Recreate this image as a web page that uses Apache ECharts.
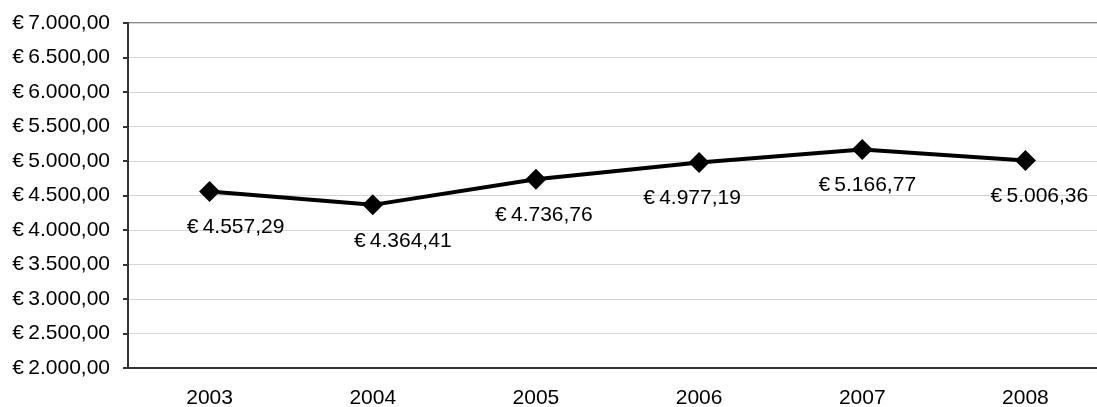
<!DOCTYPE html>
<html>
<head>
<meta charset="utf-8">
<title>chart</title>
<script src="https://cdn.jsdelivr.net/npm/echarts@6/dist/echarts.min.js"></script>
<style>
  html, body { margin: 0; padding: 0; background: #fff; }
  #chart { width: 1097px; height: 407px; }
</style>
</head>
<body>
<div id="chart"></div>
<script>
// jaren en bedragen
var years = ["2003", "2004", "2005", "2006", "2007", "2008"];
var amounts = [4557.29, 4364.41, 4736.76, 4977.19, 5166.77, 5006.36];

// label verschuiving per punt (x), zoals in het origineel
var labelShiftX = [26, 30, 8, -7, 5, 14];

function euro(v) {
  var parts = v.toFixed(2).split(".");
  var whole = parts[0].replace(/\B(?=(\d{3})+(?!\d))/g, ".");
  return "€\u2009" + whole + "," + parts[1];
}

var chart = echarts.init(document.getElementById("chart"));

var seriesData = amounts.map(function (v, i) {
  return {
    value: v,
    label: { offset: [labelShiftX[i], 36] }
  };
});

var option = {
  animation: false,
  textStyle: { fontFamily: "Liberation Sans, Arial, sans-serif" },
  grid: {
    left: 128,
    top: 23,
    bottom: 39,
    right: -10,
    containLabel: false,
    outerBoundsMode: "none",
    show: true,
    borderColor: "#888888",
    borderWidth: 2
  },
  xAxis: {
    type: "category",
    data: years,
    boundaryGap: true,
    axisLine: { lineStyle: { color: "#333333", width: 2 } },
    axisTick: { length: 6, lineStyle: { color: "#333333", width: 2 } },
    axisLabel: {
      color: "#000",
      fontSize: 21,
      margin: 20,
      fontFamily: "Liberation Sans"
    }
  },
  yAxis: {
    type: "value",
    min: 2000,
    max: 7000,
    interval: 500,
    axisLine: { show: true, lineStyle: { color: "#333333", width: 2 } },
    axisTick: { show: true, length: 5, lineStyle: { color: "#333333", width: 2 } },
    splitLine: { lineStyle: { color: "#d4d4d4", width: 1 } },
    axisLabel: {
      color: "#000",
      fontSize: 21,
      margin: 18,
      fontFamily: "Liberation Sans",
      formatter: function (v) { return euro(v); }
    }
  },
  series: [
    {
      type: "line",
      data: seriesData,
      symbol: "diamond",
      symbolSize: 21,
      itemStyle: { color: "#000" },
      lineStyle: { color: "#000", width: 4 },
      label: {
        show: true,
        position: "inside",
        color: "#000",
        fontSize: 21,
        fontFamily: "Liberation Sans",
        formatter: function (p) { return euro(p.value); }
      }
    }
  ]
};

chart.setOption(option);
</script>
</body>
</html>
